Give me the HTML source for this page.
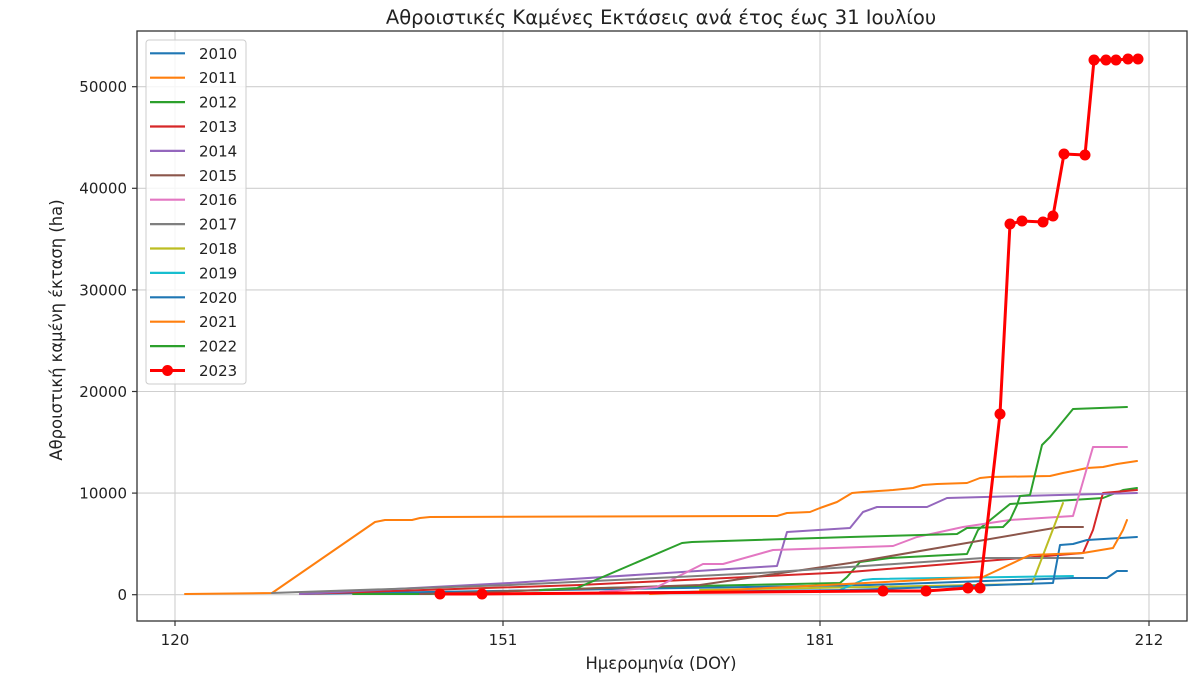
<!DOCTYPE html>
<html><head><meta charset="utf-8"><style>
html,body{margin:0;padding:0;background:#fff;}
svg{display:block;}
text{font-family:"DejaVu Sans","Liberation Sans",sans-serif;fill:#222;}
</style></head><body>
<svg width="1200" height="679" viewBox="0 0 1200 679" xmlns="http://www.w3.org/2000/svg">
<rect width="1200" height="679" fill="#fff"/>
<!-- grid -->
<g stroke="#cfcfcf" stroke-width="1.1">
<line x1="175" y1="31" x2="175" y2="621"/>
<line x1="503" y1="31" x2="503" y2="621"/>
<line x1="820" y1="31" x2="820" y2="621"/>
<line x1="1149" y1="31" x2="1149" y2="621"/>
<line x1="137" y1="594.7" x2="1187" y2="594.7"/>
<line x1="137" y1="493.1" x2="1187" y2="493.1"/>
<line x1="137" y1="391.5" x2="1187" y2="391.5"/>
<line x1="137" y1="289.9" x2="1187" y2="289.9"/>
<line x1="137" y1="188.3" x2="1187" y2="188.3"/>
<line x1="137" y1="86.7" x2="1187" y2="86.7"/>
</g>
<!-- series -->
<g fill="none" stroke-width="2" stroke-linejoin="round" stroke-linecap="round">
<polyline stroke="#1f77b4" points="300,594 870,585 1073,578 1107,578 1117,571 1127,571"/>
<polyline stroke="#ff7f0e" points="185,594 272,593 375,522 385,520 412,520 420,518 430,517 777,516 787,513 810,512 820,508 837,502 852,493 863,492 893,490 913,488 923,485 937,484 967,483 980,478 990,477 1050,476 1063,473 1073,471 1087,468 1103,467 1117,464 1137,461"/>
<polyline stroke="#2ca02c" points="353,594 430,594 600,588 840,583 847,577 860,562 890,558 967,554 978,530 1010,504 1103,498 1123,490 1137,488"/>
<polyline stroke="#d62728" points="300,594 580,585 850,572 1083,553 1093,530 1103,493 1137,490"/>
<polyline stroke="#9467bd" points="300,594 510,583 760,567 777,566 787,532 850,528 863,512 877,507 927,507 947,498 1137,493"/>
<polyline stroke="#8c564b" points="420,594 700,585 850,563 1060,527 1083,527"/>
<polyline stroke="#e377c2" points="600,592 657,587 703,564 723,564 773,550 893,546 917,537 963,527 1010,520 1073,516 1093,447 1127,447"/>
<polyline stroke="#7f7f7f" points="272,593 510,585 760,573 983,558 1083,558"/>
<polyline stroke="#bcbd22" points="700,590 1032,584 1063,503"/>
<polyline stroke="#17becf" points="840,590 863,580 873,579 1073,576"/>
<polyline stroke="#1f77b4" points="480,594 850,590 1053,583 1060,545 1073,544 1087,540 1137,537"/>
<polyline stroke="#ff7f0e" points="650,594 983,577 1030,555 1083,553 1113,548 1123,530 1127,520"/>
<polyline stroke="#2ca02c" points="540,590 577,588 682,543 692,542 850,537 957,534 967,528 1003,527 1010,520 1017,505 1020,496 1030,495 1042,445 1050,437 1073,409 1127,407"/>
<polyline stroke="#ff0000" stroke-width="3" points="440,594 482,594 883,591 926,591 968,588 980,588 1000,414 1010,224 1022,221 1043,222 1053,216 1064,154 1085,155 1094,60 1106,60 1116,60 1128,59 1138,59"/>
</g>
<g fill="#ff0000">
<circle cx="440" cy="594" r="5.5"/><circle cx="482" cy="594" r="5.5"/><circle cx="883" cy="591" r="5.5"/><circle cx="926" cy="591" r="5.5"/><circle cx="968" cy="588" r="5.5"/><circle cx="980" cy="588" r="5.5"/><circle cx="1000" cy="414" r="5.5"/><circle cx="1010" cy="224" r="5.5"/><circle cx="1022" cy="221" r="5.5"/><circle cx="1043" cy="222" r="5.5"/><circle cx="1053" cy="216" r="5.5"/><circle cx="1064" cy="154" r="5.5"/><circle cx="1085" cy="155" r="5.5"/><circle cx="1094" cy="60" r="5.5"/><circle cx="1106" cy="60" r="5.5"/><circle cx="1116" cy="60" r="5.5"/><circle cx="1128" cy="59" r="5.5"/><circle cx="1138" cy="59" r="5.5"/>
</g>
<!-- axes frame -->
<rect x="137" y="31" width="1050" height="590" fill="none" stroke="#333" stroke-width="1.3"/>
<!-- ticks -->
<g stroke="#333" stroke-width="1.2">
<line x1="132" y1="594.7" x2="137" y2="594.7"/>
<line x1="132" y1="493.1" x2="137" y2="493.1"/>
<line x1="132" y1="391.5" x2="137" y2="391.5"/>
<line x1="132" y1="289.9" x2="137" y2="289.9"/>
<line x1="132" y1="188.3" x2="137" y2="188.3"/>
<line x1="132" y1="86.7" x2="137" y2="86.7"/>
<line x1="175" y1="621" x2="175" y2="626"/>
<line x1="503" y1="621" x2="503" y2="626"/>
<line x1="820" y1="621" x2="820" y2="626"/>
<line x1="1149" y1="621" x2="1149" y2="626"/>
</g>
<g font-size="15" text-anchor="end">
<text x="127" y="600">0</text>
<text x="127" y="498.5">10000</text>
<text x="127" y="397">20000</text>
<text x="127" y="295.3">30000</text>
<text x="127" y="193.7">40000</text>
<text x="127" y="92">50000</text>
</g>
<g font-size="15" text-anchor="middle">
<text x="175" y="645">120</text>
<text x="503" y="645">151</text>
<text x="820" y="645">181</text>
<text x="1149" y="645">212</text>
<text x="661" y="669" font-size="16.4">Ημερομηνία (DOY)</text>
<text x="661" y="24" font-size="19.5">Αθροιστικές Καμένες Εκτάσεις ανά έτος έως 31 Ιουλίου</text>
<text transform="translate(62,330) rotate(-90)" font-size="16.4">Αθροιστική καμένη έκταση (ha)</text>
</g>
<!-- legend -->
<rect x="146" y="40" width="100" height="344" rx="3" fill="#fff" fill-opacity="0.8" stroke="#cccccc" stroke-width="1"/>
<g stroke-width="2.2">
<line x1="150" x2="185" y1="53.3" y2="53.3" stroke="#1f77b4"/>
<line x1="150" x2="185" y1="77.7" y2="77.7" stroke="#ff7f0e"/>
<line x1="150" x2="185" y1="102.1" y2="102.1" stroke="#2ca02c"/>
<line x1="150" x2="185" y1="126.5" y2="126.5" stroke="#d62728"/>
<line x1="150" x2="185" y1="150.9" y2="150.9" stroke="#9467bd"/>
<line x1="150" x2="185" y1="175.3" y2="175.3" stroke="#8c564b"/>
<line x1="150" x2="185" y1="199.7" y2="199.7" stroke="#e377c2"/>
<line x1="150" x2="185" y1="224.1" y2="224.1" stroke="#7f7f7f"/>
<line x1="150" x2="185" y1="248.5" y2="248.5" stroke="#bcbd22"/>
<line x1="150" x2="185" y1="272.9" y2="272.9" stroke="#17becf"/>
<line x1="150" x2="185" y1="297.3" y2="297.3" stroke="#1f77b4"/>
<line x1="150" x2="185" y1="321.7" y2="321.7" stroke="#ff7f0e"/>
<line x1="150" x2="185" y1="346.1" y2="346.1" stroke="#2ca02c"/>
<line x1="150" x2="185" y1="370.5" y2="370.5" stroke="#ff0000" stroke-width="3"/>
</g>
<circle cx="167.5" cy="370.5" r="5.5" fill="#ff0000"/>
<g font-size="15">
<text x="199" y="58.8">2010</text>
<text x="199" y="83.2">2011</text>
<text x="199" y="107.6">2012</text>
<text x="199" y="132">2013</text>
<text x="199" y="156.4">2014</text>
<text x="199" y="180.8">2015</text>
<text x="199" y="205.2">2016</text>
<text x="199" y="229.6">2017</text>
<text x="199" y="254">2018</text>
<text x="199" y="278.4">2019</text>
<text x="199" y="302.8">2020</text>
<text x="199" y="327.2">2021</text>
<text x="199" y="351.6">2022</text>
<text x="199" y="376">2023</text>
</g>
</svg>
</body></html>
